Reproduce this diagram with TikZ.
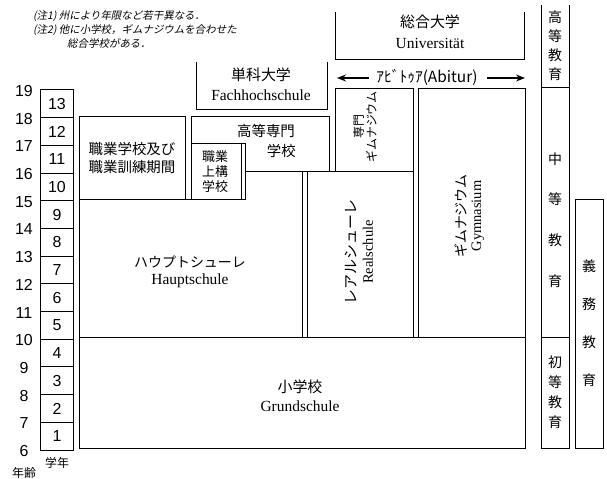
\documentclass[tikz,border=0pt]{standalone}
\usepackage{fontspec}
\setmainfont{Liberation Serif}
\newfontfamily\cjk{Noto Sans CJK JP}
\newfontfamily\cjkit[FakeSlant=0.2]{Noto Sans CJK JP}
\newfontfamily\numf{Liberation Sans}
\usetikzlibrary{arrows.meta}
\begin{document}
\begin{tikzpicture}[x=1bp,y=-1bp,
  ln/.style={draw=black, line width=1bp},
  jp/.style={font=\cjk\fontsize{15}{19}\selectfont, inner sep=0pt, align=center},
  jps/.style={font=\cjk\fontsize{13}{15}\selectfont, inner sep=0pt, align=center},
  de/.style={font=\fontsize{15.5}{18}\selectfont, inner sep=0pt},
  des/.style={font=\fontsize{14.5}{16}\selectfont, inner sep=0pt},
  note/.style={font=\cjkit\fontsize{10.5}{12}\selectfont, inner sep=0pt, anchor=west},
  num/.style={font=\numf\fontsize{16}{18}\selectfont, inner sep=0pt},
  stack/.style={font=\cjk\fontsize{14}{#1}\selectfont, inner sep=0pt, align=center},
  arr/.style={line width=1.4bp, -{Stealth[length=9bp,width=7bp]}}]
\useasboundingbox (0,0) rectangle (607,479);

% notes
\node[note] (n1) at (33,16) {(注1) 州により年限など若干異なる．};
\node[note] (n2) at (33,30) {(注2) 他に小学校，ギムナジウムを合わせた};
\node[note] (n3) at (67,44) {総合学校がある．};

% age axis and grade column
\draw[ln] (40,90) rectangle (73,450);
\foreach \a in {7,...,18} {
  \draw[ln] (40,{90+(19-\a)*360/13}) -- (73,{90+(19-\a)*360/13});
}
\foreach \a in {6,...,19} {
  \node[num] (age\a) at (24,{91+(19-\a)*360/13}) {\a};
}
\foreach \g in {1,...,13} {
  \node[num] (gr\g) at (57,{450-(\g-0.5)*360/13}) {\g};
}
\node[font=\cjk\fontsize{12}{14}\selectfont, inner sep=0pt] (gakunen) at (57,463) {学年};
\node[font=\cjk\fontsize{12}{14}\selectfont, inner sep=0pt] (nenrei) at (24,473) {年齢};

% Universitaet
\draw[ln] (335,12) -- (335,60) -- (524,60) -- (524,12);
\node[jp] (uni1) at (430,22) {総合大学};
\node[de] (uni2) at (430,43) {Universität};

% Fachhochschule
\draw[ln] (196,62) -- (196,110) -- (327,110) -- (327,62);
\node[jp] (fh1) at (261,75) {単科大学};
\node[de] (fh2) at (261,95) {Fachhochschule};

% Abitur
\node[font=\cjk\fontsize{15.5}{17}\selectfont, inner sep=0pt] (abi) at (427,77) {ｱﾋﾞﾄｩｱ(Abitur)};
\coordinate (al1) at (369,78);
\coordinate (al2) at (337,78);
\coordinate (ar1) at (487,78);
\coordinate (ar2) at (525,78);
\draw[arr] (al1) -- (al2);
\draw[arr] (ar1) -- (ar2);

% vocational school
\draw[ln] (79,117) rectangle (185,200);
\node[jp, font=\cjk\fontsize{14.5}{19}\selectfont] (voc) at (132,158) {職業学校及び\\職業訓練期間};

% Hoehere Fachschule
\draw[ln] (191,144) -- (191,117) -- (329,117) -- (329,172) -- (245,172);
\node[jp, font=\cjk\fontsize{14.5}{17}\selectfont] (hf1) at (266,131) {高等専門};
\node[jp, font=\cjk\fontsize{14.5}{17}\selectfont, anchor=east] (hf2) at (296,151) {学校};

% Berufsaufbauschule
\draw[ln] (191,144) rectangle (245,200);
\draw[ln] (241,144) -- (241,200);
\node[jps] (bas) at (215,172) {職業\\上構\\学校};

% Fachgymnasium
\draw[ln] (335,89) rectangle (413,172);
\node[jps, font=\cjk\fontsize{12}{13}\selectfont, rotate=90] (fg) at (365,127) {専門\\ギムナジウム};

% Gymnasium
\draw[ln] (418,89) rectangle (525,337);
\node[jp, font=\cjk\fontsize{14}{16}\selectfont, rotate=90] (gy1) at (461,216) {ギムナジウム};
\node[des, rotate=90] (gy2) at (478,216) {Gymnasium};

% Realschule
\draw[ln] (307,172) rectangle (413,337);
\node[jp, font=\cjk\fontsize{15}{16}\selectfont, rotate=90] (rs1) at (351,252) {レアルシューレ};
\node[des, rotate=90] (rs2) at (368,252) {Realschule};

% Hauptschule
\draw[ln] (191,200) -- (79,200) -- (79,337) -- (302,337) -- (302,172);
\node[jp, font=\cjk\fontsize{14}{16}\selectfont] (hs1) at (190,262) {ハウプトシューレ};
\node[de] (hs2) at (190,281) {Hauptschule};

% Grundschule
\draw[ln] (79,337) rectangle (525,448);
\node[jp] (gs1) at (300,387) {小学校};
\node[de] (gs2) at (300,406) {Grundschule};

% right columns
\draw[ln] (541,5) -- (541,448) -- (569,448) -- (569,5);
\draw[ln] (541,88) -- (569,88);
\draw[ln] (541,337) -- (569,337);
\node[stack=19] (he) at (555,46) {高\\等\\教\\育};
\node[stack=41] (se) at (555,220) {中\\等\\教\\育};
\node[stack=20] (pe) at (555,392) {初\\等\\教\\育};
\draw[ln] (575,200) rectangle (603,448);
\node[stack=38] (ce) at (589,323) {義\\務\\教\\育};
\end{tikzpicture}
\end{document}
